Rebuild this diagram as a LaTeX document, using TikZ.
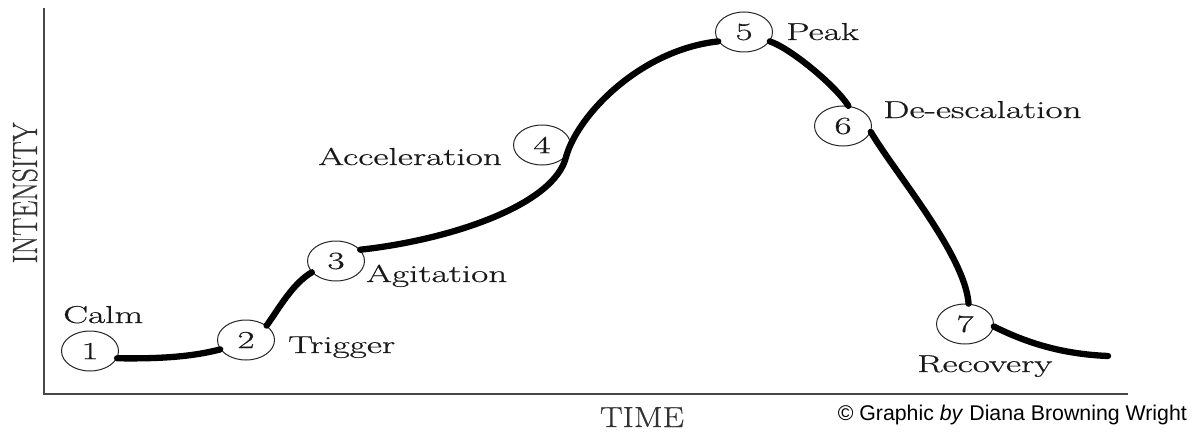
\documentclass[tikz,border=0pt]{standalone}
\usepackage{fontspec}
\usepackage{graphicx}
\usetikzlibrary{shapes.geometric}
\newfontfamily\creditfont{Liberation Sans}
\newfontfamily\labfont{Latin Modern Roman}[FakeBold=0.5]
% labels are set wide: the whole graphic is stretched sideways
\newcommand\wide[1]{\scalebox{1.52}[1]{#1}}
\newcommand\labsize{\labfont\fontsize{24.5}{25}\selectfont}

\tikzset{
  stage/.style={ellipse, draw=black!85, line width=1pt, fill=white,
    minimum width=57pt, minimum height=40pt, inner sep=0pt,
    font=\labsize, text=black!90},
  lab/.style={inner sep=0pt, font=\labsize, text=black!90},
  axisline/.style={draw=black!72, line width=2pt},
  curve/.style={draw=black, line width=6.3pt, line cap=round, line join=round},
}

\begin{document}
\begin{tikzpicture}[x=1pt, y=-1pt]
\useasboundingbox (0,0) rectangle (1198,433);

% axes
\coordinate (ytop) at (44,8);
\coordinate (orig) at (44,394);
\coordinate (xend) at (1128,394);
\draw[axisline] (ytop) -- (orig) -- (xend);

% stages of the cycle
\node[stage] (c1) at (90,351)  {\wide{1}};
\node[stage] (c2) at (246,340) {\wide{2}};
\node[stage] (c3) at (336,261) {\wide{3}};
\node[stage] (c4) at (542,145) {\wide{4}};
\node[stage] (c5) at (744,32)  {\wide{5}};
\node[stage] (c6) at (843,126) {\wide{6}};
\node[stage] (c7) at (965,324) {\wide{7}};
\coordinate (tail) at (1108,356);

% intensity curve
\draw[curve] (c1.-15) .. controls (165,359) and (195,356) .. (c2.200);
\draw[curve] (c2.35) .. controls (278,310) and (292,284) .. (c3.205);
\draw[curve] (c3.25) .. controls (450,240) and (555,205) .. (c4.-25);
\draw[curve] (c4.-25) .. controls (578,115) and (640,50) .. (c5.200);
\draw[curve] (c5.-20) .. controls (790,48) and (835,85) .. (c6.75);
\draw[curve] (c6.-12) .. controls (895,173) and (965,255) .. (c7.80);
\draw[curve] (c7.-5) .. controls (1025,342) and (1060,354) .. (tail);

% stage names
\node[lab, anchor=base west] (lcalm)  at (63,323)  {\wide{Calm}};
\node[lab, anchor=base west] (ltrig)  at (288,353) {\wide{Trigger}};
\node[lab, anchor=base west] (lagit)  at (366,282) {\wide{Agitation}};
\node[lab, anchor=base east] (laccel) at (502,165) {\wide{Acceleration}};
\node[lab, anchor=base west] (lpeak)  at (786,40)  {\wide{Peak}};
\node[lab, anchor=base west] (ldesc)  at (883,118) {\wide{De-escalation}};
\node[lab, anchor=base west] (lrec)   at (917,372) {\wide{Recovery}};

% axis titles
\node[inner sep=0pt, font=\labfont\fontsize{29}{29}\selectfont, text=black!80, anchor=base]
  (ltime) at (642,427) {\scalebox{1.17}[1]{TIME}};
\node[inner sep=0pt, font=\labfont\fontsize{27}{27}\selectfont, text=black!80, anchor=base, rotate=90]
  (lint) at (37,193) {\scalebox{1}[1.3]{INTENSITY}};

% credit line
\node[inner sep=0pt, font=\creditfont\fontsize{21.3}{22}\selectfont, anchor=base east]
  (credit) at (1187,420) {© Graphic \textit{by} Diana Browning Wright};
\end{tikzpicture}
\end{document}
